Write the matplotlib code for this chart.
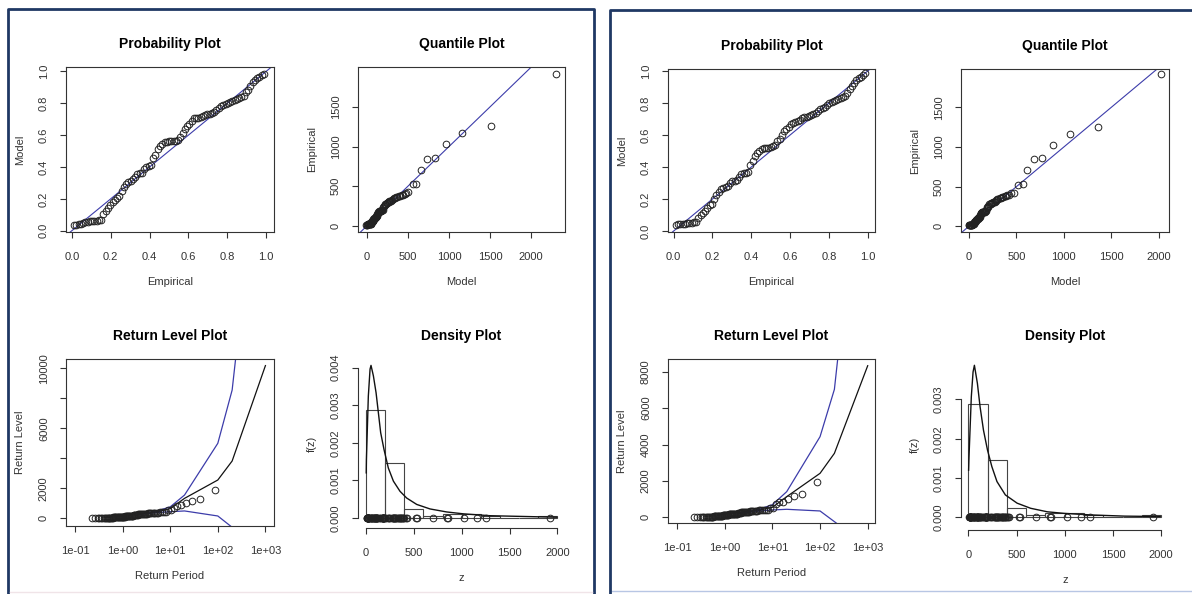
import numpy as np
import matplotlib
matplotlib.use('Agg')
import matplotlib.pyplot as plt
from matplotlib.lines import Line2D
from matplotlib.ticker import NullLocator

plt.rcParams['font.family'] = ['Liberation Sans', 'DejaVu Sans']

W, H = 1192, 594

# observed data (sorted), same sample in both panels
z_obs = [12, 13, 14, 16, 18, 19, 20, 21, 21, 22, 23, 23, 25,
         35, 41, 46, 50, 55, 59, 62, 64,
         73, 80, 85, 88, 91, 94, 96, 102, 103, 105, 110, 116, 117, 119,
         135, 142, 156, 166, 173, 177, 179, 180, 180, 181, 182, 184, 193, 198,
         204, 225, 238, 245, 262, 277, 280, 282, 292, 297, 302, 307, 312, 317,
         330, 338, 345, 352, 358, 364, 370, 376, 382, 389, 396,
         415, 425, 524, 532, 704, 846, 859, 1026, 1165, 1257, 1919]

# left fit: model probabilities and model quantiles
model_p_left = [.033, .036, .040, .045, .050, .053, .056, .058, .060, .062, .064, .066, .070,
                .105, .125, .145, .160, .180, .195, .205, .215,
                .250, .275, .295, .305, .315, .325, .335, .355, .360, .365, .385, .400, .405, .410,
                .455, .475, .510, .530, .545, .555, .558, .560, .560, .562, .565, .570, .590, .610,
                .640, .660, .670, .690, .705, .708, .710, .712, .720, .725, .730, .735, .740, .745,
                .760, .770, .780, .790, .795, .800, .808, .815, .822, .828, .832,
                .838, .845, .870, .885, .905, .930, .945, .955, .965, .975, .985]
model_q_left = [-15, -6, 1, 7, 13, 18, 23, 28, 32, 36, 40, 44, 48,
                51, 54, 57, 60, 63, 66, 69, 72, 74, 77, 81, 84, 87, 91, 94, 97, 100, 104, 107, 110,
                114, 118, 122, 126, 130, 134, 138, 142, 146, 152, 157, 162, 168, 173, 179, 184,
                189, 195, 201, 209, 217, 224, 232, 240,
                248, 256, 265, 274, 284, 294, 305, 316, 328, 341, 355, 370, 386, 403, 421, 440,
                460, 480, 500, 561, 602, 663, 732, 829, 967, 1154, 1508, 2309]

# right fit
model_p_right = [.038, .042, .045, .046, .047, .048, .050, .052, .054, .058, .080, .100, .115,
                 .128, .145, .160, .172, .200, .225, .245, .260,
                 .268, .275, .283, .300, .310, .315, .320, .340, .355, .360, .365, .370, .415, .440,
                 .470, .488, .500, .515, .520, .522, .522, .525, .530, .535, .560, .575, .600, .625,
                 .640, .650, .670, .678, .682, .685, .695, .705, .712, .716, .722, .728, .733, .738,
                 .750, .760, .768, .775, .785, .800, .805, .812, .818, .825, .832,
                 .838, .842, .865, .885, .905, .925, .945, .955, .965, .975, .990]
model_q_right = [-3, 2, 6, 10, 14, 18, 22, 26, 30, 34, 38, 42, 45,
                 48, 51, 54, 57, 60, 63, 66, 69, 72, 75, 78, 81, 84, 87, 90, 93, 96, 99, 102, 105,
                 108, 112, 116, 120, 124, 128, 132, 136, 140, 145, 150, 155, 160, 165, 170, 175,
                 180, 185, 191, 198, 205, 212, 220, 228,
                 236, 244, 252, 261, 270, 280, 290, 300, 311, 322, 334, 347, 361, 376, 391, 406,
                 422, 440, 470, 520, 566, 615, 685, 766, 882, 1065, 1357, 2025]

# return level curves
rl_period = [2, 5, 10, 20, 100, 200, 1000]
rl_left = [250, 420, 644, 1330, 2553, 3820, 10180]
rl_left_hi = [262, 465, 760, 1550, 5000, 8550, 28500]
rl_left_lo = [238, 375, 440, 490, 155, -600, -2350]
rl_right = [225, 380, 549, 1135, 2416, 3514, 8330]
rl_right_hi = [236, 425, 690, 1410, 4430, 7030, 23800]
rl_right_lo = [214, 335, 403, 440, 348, -238, -1600]

# fitted density curves
dens_z_left = [2, 4, 24, 42, 52, 77, 105, 129, 153, 188, 233, 286, 355, 425, 530, 669, 843, 1017, 1296, 1645, 1993]
dens_f_left = [.0012, .00156, .00324, .00396, .00406, .00378, .00333, .0028, .00227, .00182, .00133,
               .00098, .00071, .00053, .00036, .00024, .00016, .00011, .00006, .00004, .00002]
dens_z_right = [3, 7, 31, 49, 63, 94, 122, 157, 199, 244, 297, 384, 506, 646, 820, 995, 1274, 1623, 1990]
dens_f_right = [.0012, .00154, .00307, .0037, .00387, .00341, .00281, .00222, .00171, .00129, .00091,
                .00057, .00036, .00023, .00014, .0001, .00006, .00003, .00002]
hist_bins = [0, 200, 400, 600, 800, 1000, 1200, 1400, 1600, 1800, 2000]

n = len(z_obs)
p_emp = np.arange(1, n + 1) / (n + 1)
rp_emp = -1.0 / np.log(p_emp)

INK = '#333333'
BLUE = '#3c3caa'
NAVY = '#1f3864'

fig = plt.figure(figsize=(W / 100, H / 100), dpi=100)
fig.patch.set_facecolor('white')


def add_ax(x0, y0, x1, y1):
    return fig.add_axes([x0 / W, 1 - y1 / H, (x1 - x0) / W, (y1 - y0) / H])


def style(ax, title, xlabel, ylabel, xt, xtl, yt, ytl):
    ax.set_xticks(xt, xtl)
    ax.set_yticks(yt, ytl, rotation=90, va='center')
    ax.xaxis.set_minor_locator(NullLocator())
    ax.tick_params(direction='out', length=4.3, width=0.8, colors=INK, labelsize=8, pad=8)
    ax.tick_params(axis='x', pad=10)
    for s in ax.spines.values():
        s.set_linewidth(0.8)
        s.set_color(INK)
    ax.set_title(title, fontsize=10, fontweight='bold', pad=14)
    ax.set_xlabel(xlabel, fontsize=8, labelpad=11, color=INK)
    ax.set_ylabel(ylabel, fontsize=8, labelpad=10, color=INK)


def circles(ax, x, y):
    ax.plot(x, y, 'o', mfc='none', mec='#222222', ms=4.8, mew=0.7, zorder=3)


def panel(cols, rows, lims, mp, mq, rl, rl_hi, rl_lo, dz, df, rl_yt, rl_ytl, d_yt, d_ytl):
    (c0, c1), (c2, c3) = cols
    (r0, r1), (r2, r3) = rows

    ax = add_ax(c0, r0, c1, r1)
    circles(ax, p_emp, mp)
    ax.axline((0, 0), slope=1, color=BLUE, lw=0.8)
    ax.set_xlim(lims['px'])
    ax.set_ylim(lims['py'])
    t = [0, 0.2, 0.4, 0.6, 0.8, 1.0]
    tl = ['0.0', '0.2', '0.4', '0.6', '0.8', '1.0']
    style(ax, 'Probability Plot', 'Empirical', 'Model', t, tl, t, tl)

    ax = add_ax(c2, r0, c3, r1)
    circles(ax, mq, z_obs)
    ax.axline((0, 0), slope=1, color=BLUE, lw=0.8)
    ax.set_xlim(lims['qx'])
    ax.set_ylim(lims['qy'])
    style(ax, 'Quantile Plot', 'Model', 'Empirical',
          [0, 500, 1000, 1500, 2000], ['0', '500', '1000', '1500', '2000'],
          [0, 500, 1000, 1500], ['0', '500', '1000', '1500'])

    ax = add_ax(c0, r2, c1, r3)
    ax.set_xscale('log')
    circles(ax, rp_emp, z_obs)
    ax.plot(rl_period, rl, color='#111111', lw=0.9)
    ax.plot(rl_period, rl_hi, color=BLUE, lw=0.9)
    ax.plot(rl_period, rl_lo, color=BLUE, lw=0.9)
    ax.set_xlim(lims['rx'])
    ax.set_ylim(lims['ry'])
    style(ax, 'Return Level Plot', 'Return Period', 'Return Level',
          [0.1, 1, 10, 100, 1000], ['1e-01', '1e+00', '1e+01', '1e+02', '1e+03'],
          rl_yt, rl_ytl)

    ax = add_ax(c2, r2, c3, lims['dbot'])
    ax.hist(z_obs, bins=hist_bins, density=True, fill=False, edgecolor='#444444', lw=0.8)
    ax.plot(dz, df, color='#111111', lw=1.0)
    circles(ax, z_obs, np.zeros(n))
    ax.set_xlim(lims['dx'])
    ax.set_ylim(lims['dy'])
    style(ax, 'Density Plot', 'z', 'f(z)',
          [0, 500, 1000, 1500, 2000], ['0', '500', '1000', '1500', '2000'],
          d_yt, d_ytl)
    ax.spines['top'].set_visible(False)
    ax.spines['right'].set_visible(False)
    ax.spines['left'].set_bounds(0, d_yt[-1])
    ax.spines['bottom'].set_bounds(0, 2000)


panel([(66, 274), (358, 565)], [(67, 232), (359, 526)],
      dict(px=(-0.03, 1.04), py=(-0.008, 1.027), qx=(-110, 2415), qy=(-79, 2004),
           rx=(10 ** -1.188, 10 ** 3.18), ry=(-513, 10620),
           dx=(-84, 2080), dy=(-0.000267, 0.00423), dbot=528),
      model_p_left, model_q_left, rl_left, rl_left_hi, rl_left_lo,
      dens_z_left, dens_f_left,
      [0, 2000, 4000, 6000, 8000, 10000], ['0', '2000', '', '6000', '', '10000'],
      [0, 0.001, 0.002, 0.003, 0.004], ['0.000', '0.001', '0.002', '0.003', '0.004'])

panel([(668, 875), (961, 1169)], [(69, 232), (359, 523)],
      dict(px=(-0.029, 1.038), py=(-0.006, 1.013), qx=(-84, 2108), qy=(-72, 1983),
           rx=(10 ** -1.19, 10 ** 3.153), ry=(-313, 8698),
           dx=(-76, 2081), dy=(-0.000323, 0.00403), dbot=530),
      model_p_right, model_q_right, rl_right, rl_right_hi, rl_right_lo,
      dens_z_right, dens_f_right,
      [0, 2000, 4000, 6000, 8000], ['0', '2000', '4000', '6000', '8000'],
      [0, 0.001, 0.002, 0.003], ['0.000', '0.001', '0.002', '0.003'])


# navy frames around the two panels
def fline(xs, ys, color, lw):
    fig.add_artist(Line2D([x / W for x in xs], [1 - y / H for y in ys],
                          color=color, lw=lw, transform=fig.transFigure, clip_on=False))


fline([8, 8, 594, 594], [600, 9, 9, 600], NAVY, 2.0)
fline([10, 592], [592, 592], '#f0e4e8', 1.0)
fline([612, 1192], [591, 591], '#b8c6e4', 1.0)
fline([610, 610, 1200], [600, 10, 10], NAVY, 2.0)

fig.savefig('out.png', dpi=100)
